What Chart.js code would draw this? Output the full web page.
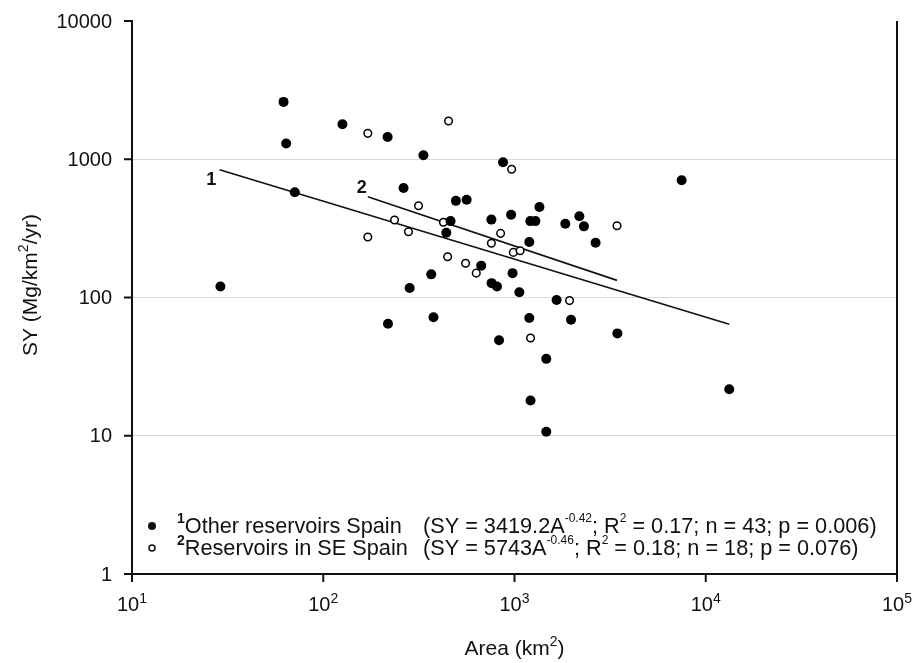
<!DOCTYPE html>
<html lang="en">
<head>
  <meta charset="UTF-8" />
  <title>SY vs Area</title>
  <script src="https://cdn.jsdelivr.net/npm/chart.js"></script>
  <style>
    body { margin: 0; background: #fff; }
    canvas { display: block; }
  </style>
</head>
<body>
  <canvas id="grafica" width="913" height="663"></canvas>

  <script>
    // 1: other reservoirs Spain (filled dots)
    const otherArea = [62, 64, 126, 217, 334, 71, 29, 263, 283, 218, 871, 494, 562, 1350, 960, 757,
      1210, 1286, 463, 1844, 2183, 2307, 440, 1195, 2655, 670, 367, 977, 759, 810, 1060, 1660,
      377, 1195, 1975, 3450, 830, 1466, 1213, 1466, 7480, 13270];
    const otherSY = [2600, 1300, 1790, 1450, 1070, 577, 120, 620, 117, 64.5, 950, 500, 510, 452, 397, 366,
      357, 357, 357, 342, 387, 327, 294, 252, 249, 170, 147, 150, 127, 120, 109, 96,
      72, 71, 69, 55, 49, 36, 18, 10.7, 705, 21.7];

    // 2: reservoirs in SE Spain (open dots)
    const seArea = [171, 452, 966, 315, 236, 425, 279, 171, 846, 757, 986, 1070, 447, 555, 631, 1940, 1213, 3436];
    const seSY = [1540, 1890, 847, 461, 364, 350, 299, 274, 291, 247, 212, 218, 197, 177, 150, 95, 51, 330];

    // fitted lines, end points
    const fit1Area = [28.7, 13270];
    const fit1SY = [840, 64];
    const fit2Area = [171, 3436];
    const fit2SY = [535, 133];

    const lineLabels = ['1', '2'];
    const lineLabelArea = [26, 159];
    const lineLabelSY = [708, 623];

    const xTicks = [10, 100, 1000, 10000, 100000];
    const yTicks = [1, 10, 100, 1000, 10000];

    const FONT = '"Liberation Sans", Arial, sans-serif';

    function pts(xs, ys) {
      return xs.map((x, i) => ({ x: x, y: ys[i] }));
    }

    // draws a list of text pieces one after the other; returns total width
    function rich(ctx, segs, x, y, align) {
      let w = 0;
      segs.forEach(s => { ctx.font = s.font; w += ctx.measureText(s.t).width; });
      let cx = align === 'center' ? x - w / 2 : (align === 'right' ? x - w : x);
      ctx.textAlign = 'left';
      segs.forEach(s => {
        ctx.font = s.font;
        ctx.fillText(s.t, cx, y + (s.dy || 0));
        cx += ctx.measureText(s.t).width;
      });
      return w;
    }

    const decor = {
      id: 'decor',
      afterDraw(chart) {
        const ctx = chart.ctx;
        const xs = chart.scales.x, ys = chart.scales.y;
        const a = chart.chartArea;
        ctx.save();
        ctx.strokeStyle = '#111';
        ctx.fillStyle = '#111';
        ctx.lineWidth = 2;

        // right frame line
        ctx.beginPath();
        ctx.moveTo(a.right, a.top);
        ctx.lineTo(a.right, a.bottom);
        ctx.stroke();

        // y ticks
        ctx.textBaseline = 'middle';
        yTicks.forEach(v => {
          const y = ys.getPixelForValue(v);
          ctx.beginPath();
          ctx.moveTo(a.left - 8, y);
          ctx.lineTo(a.left, y);
          ctx.stroke();
          ctx.font = '20px ' + FONT;
          ctx.textAlign = 'right';
          ctx.fillText(String(v), a.left - 20, y + 1);
        });

        // x ticks with powers of ten
        ctx.textBaseline = 'alphabetic';
        xTicks.forEach(v => {
          const x = xs.getPixelForValue(v);
          ctx.beginPath();
          ctx.moveTo(x, a.bottom);
          ctx.lineTo(x, a.bottom + 8);
          ctx.stroke();
          const e = Math.round(Math.log10(v));
          rich(ctx, [
            { t: '10', font: '20px ' + FONT },
            { t: String(e), font: '14px ' + FONT, dy: -8 }
          ], x, 611, 'center');
        });

        // axis titles
        rich(ctx, [
          { t: 'Area (km', font: '21px ' + FONT },
          { t: '2', font: '14px ' + FONT, dy: -9 },
          { t: ')', font: '21px ' + FONT }
        ], (a.left + a.right) / 2, 655, 'center');

        ctx.save();
        ctx.translate(37, 285);
        ctx.rotate(-Math.PI / 2);
        rich(ctx, [
          { t: 'SY (Mg/km', font: '21px ' + FONT },
          { t: '2', font: '14px ' + FONT, dy: -9 },
          { t: '/yr)', font: '21px ' + FONT }
        ], 0, 0, 'center');
        ctx.restore();

        // labels next to fitted lines
        ctx.font = 'bold 18px ' + FONT;
        ctx.textAlign = 'center';
        ctx.textBaseline = 'middle';
        lineLabels.forEach((t, i) => {
          ctx.fillText(t, xs.getPixelForValue(lineLabelArea[i]), ys.getPixelForValue(lineLabelSY[i]));
        });

        // legend
        ctx.textBaseline = 'alphabetic';
        ctx.lineWidth = 1.5;
        ctx.beginPath();
        ctx.arc(152, 526, 4, 0, Math.PI * 2);
        ctx.fill();
        ctx.beginPath();
        ctx.arc(152, 548, 3, 0, Math.PI * 2);
        ctx.stroke();

        const big = '21.7px ' + FONT, sup = '12px ' + FONT;
        rich(ctx, [{ t: '1', font: 'bold 14px ' + FONT, dy: -10 }, { t: 'Other reservoirs Spain', font: big }], 177, 533, 'left');
        rich(ctx, [{ t: '2', font: 'bold 14px ' + FONT, dy: -10 }, { t: 'Reservoirs in SE Spain', font: big }], 177, 555, 'left');
        rich(ctx, [
          { t: '(SY = 3419.2A', font: big },
          { t: '-0.42', font: sup, dy: -11 },
          { t: '; R', font: big },
          { t: '2', font: sup, dy: -11 },
          { t: ' = 0.17; n = 43; p = 0.006)', font: big }
        ], 423, 533, 'left');
        rich(ctx, [
          { t: '(SY = 5743A', font: big },
          { t: '-0.46', font: sup, dy: -11 },
          { t: '; R', font: big },
          { t: '2', font: sup, dy: -11 },
          { t: ' = 0.18; n = 18; p = 0.076)', font: big }
        ], 423, 555, 'left');

        ctx.restore();
      }
    };

    const config = {
      type: 'scatter',
      data: {
        datasets: [
          {
            label: 'Other reservoirs Spain',
            data: pts(otherArea, otherSY),
            pointRadius: 5,
            pointBackgroundColor: '#000',
            pointBorderColor: '#000',
            pointBorderWidth: 0,
            order: 0
          },
          {
            label: 'Reservoirs in SE Spain',
            data: pts(seArea, seSY),
            pointRadius: 3.8,
            pointBackgroundColor: '#fff',
            pointBorderColor: '#000',
            pointBorderWidth: 1.5,
            order: 0
          },
          {
            label: 'fit 1',
            data: pts(fit1Area, fit1SY),
            showLine: true,
            pointRadius: 0,
            borderColor: '#111',
            borderWidth: 1.6,
            order: 1
          },
          {
            label: 'fit 2',
            data: pts(fit2Area, fit2SY),
            showLine: true,
            pointRadius: 0,
            borderColor: '#111',
            borderWidth: 1.6,
            order: 1
          }
        ]
      },
      options: {
        responsive: false,
        animation: false,
        layout: { padding: { left: 132, right: 16, top: 21, bottom: 89 } },
        plugins: {
          legend: { display: false },
          tooltip: { enabled: false }
        },
        scales: {
          x: {
            type: 'logarithmic',
            min: 10,
            max: 100000,
            afterBuildTicks: s => { s.ticks = xTicks.map(v => ({ value: v })); },
            ticks: { display: false },
            grid: { display: false, drawTicks: false },
            border: { display: true, color: '#111', width: 2 }
          },
          y: {
            type: 'logarithmic',
            min: 1,
            max: 10000,
            afterBuildTicks: s => { s.ticks = yTicks.map(v => ({ value: v })); },
            ticks: { display: false },
            grid: {
              drawTicks: false,
              color: c => (c.tick && (c.tick.value === 1 || c.tick.value === 10000)) ? 'rgba(0,0,0,0)' : '#d8d8d8',
              lineWidth: 1
            },
            border: { display: true, color: '#111', width: 2 }
          }
        }
      },
      plugins: [decor]
    };

    const ctx = document.getElementById('grafica').getContext('2d');
    window.miGrafica = new Chart(ctx, config);
  </script>
</body>
</html>
